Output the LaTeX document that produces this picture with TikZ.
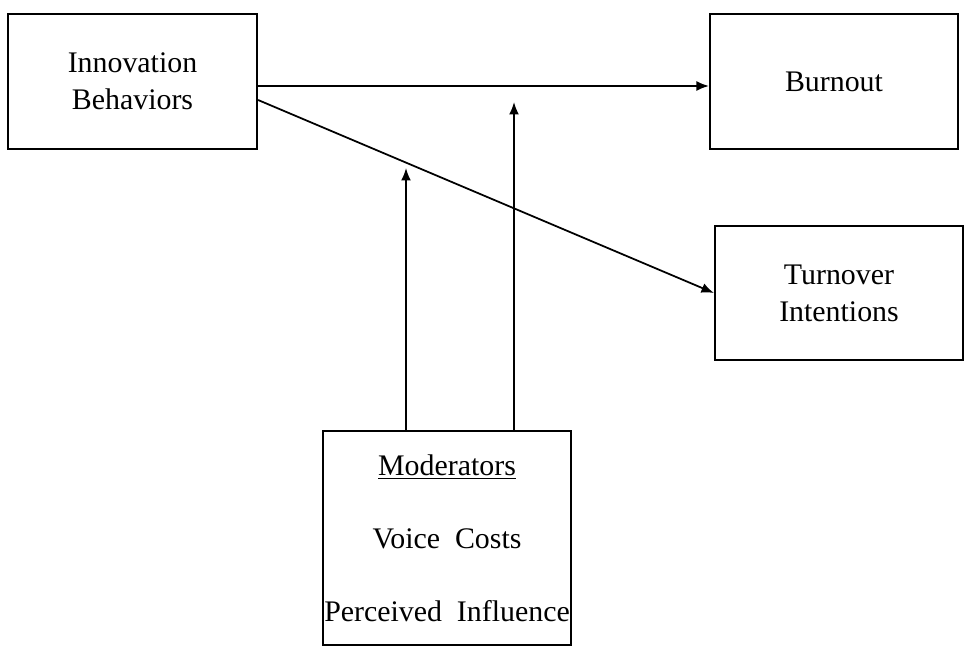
\documentclass[tikz,border=0pt]{standalone}
\usepackage{fontspec}
\setmainfont{Liberation Serif}
\usepackage{tikz}
\usetikzlibrary{arrows.meta,positioning,calc}

\begin{document}
\begin{tikzpicture}[
  font=\fontsize{17}{21}\selectfont,
  bx/.style={draw=black,line width=1.2pt,minimum width=49.6mm,minimum height=27mm,align=center,inner sep=0pt},
  arr/.style={-{Latex[length=2.5mm,width=2mm]},line width=1pt}
]
\useasboundingbox (0,0) rectangle (19.38,13.06);
\node[bx,minimum width=49.8mm] (inno) at (2.65,11.43) {Innovation\\Behaviors};
\node[bx] (burn) at (16.68,11.43) {Burnout};
\node[bx,minimum height=26.8mm] (turn) at (16.78,7.2) {Turnover\\Intentions};
\node[bx,minimum height=42.8mm] (mod) at (8.94,2.3) {\underline{Moderators}\\[20.5pt]Voice~ Costs\\[20.5pt]Perceived~ Influence};

\coordinate (tipA) at (8.12,9.70);
\coordinate (tipB) at (10.28,11.02);

\draw[arr] ([yshift=-0.9mm]inno.east) -- ([yshift=-0.9mm]burn.west);
\draw[arr] ([yshift=-3.7mm]inno.east) -- (turn.west);
\draw[arr] (mod.north -| tipA) -- (tipA);
\draw[arr] (mod.north -| tipB) -- (tipB);
\end{tikzpicture}
\end{document}
